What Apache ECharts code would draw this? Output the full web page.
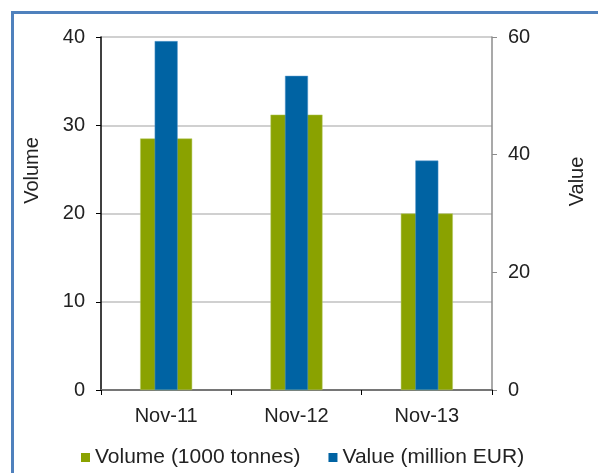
<!DOCTYPE html>
<html><head><meta charset="utf-8">
<script src="https://cdn.jsdelivr.net/npm/echarts@6/dist/echarts.min.js"></script>
<style>html,body{margin:0;padding:0;background:#fff}#c{width:598px;height:473px}</style>
</head><body><div id="c"></div>
<script>
const categories = ['Nov-11', 'Nov-12', 'Nov-13'];
const volume = [28.5, 31.2, 20.0];
const value = [59.3, 53.4, 39.0];
const seriesNames = ['Volume (1000 tonnes)', 'Value (million EUR)'];
const leftTicks = {min: 0, max: 40, interval: 10};
const rightTicks = {min: 0, max: 60, interval: 20};

const font = 'Liberation Sans, Arial, sans-serif';
const chart = echarts.init(document.getElementById('c'), null, {renderer: 'canvas'});
chart.setOption({
  animation: false,
  backgroundColor: '#fff',
  graphic: [{
    type: 'rect', left: 10, top: 10, shape: {x: 0, y: 0, width: 700, height: 600},
    style: {fill: 'none', stroke: '#4f81bd', lineWidth: 3}, silent: true, z: 100
  }],
  grid: {left: 101, right: 106, top: 37, bottom: 83},
  legend: {
    left: 76, top: 442, itemWidth: 9, itemHeight: 9, itemGap: 28,
    icon: 'rect',
    itemStyle: {borderWidth: 0},
    textStyle: {fontFamily: font, fontSize: 21, color: '#222'},
    data: seriesNames
  },
  xAxis: [{
    type: 'category', data: categories, position: 'bottom',
    axisLine: {lineStyle: {color: '#000', width: 1.5}},
    axisTick: {show: true, length: 5, lineStyle: {color: '#000'}},
    axisLabel: {fontFamily: font, fontSize: 20, color: '#222', margin: 16},
    splitLine: {show: false}
  }, {
    type: 'category', data: categories, position: 'top',
    axisLine: {lineStyle: {color: '#8c8c8c', width: 1.5}},
    axisTick: {show: false}, axisLabel: {show: false}, splitLine: {show: false}
  }],
  yAxis: [{
    type: 'value', position: 'left', min: leftTicks.min, max: leftTicks.max, interval: leftTicks.interval,
    name: 'Volume', nameLocation: 'middle', nameGap: 59, nameRotate: 90,
    nameTextStyle: {fontFamily: font, fontSize: 20, color: '#222', padding: [0, 0, 0, 86]},
    axisLine: {show: true, lineStyle: {color: '#000', width: 1.5}},
    axisTick: {show: true, length: 5, lineStyle: {color: '#000'}},
    axisLabel: {fontFamily: font, fontSize: 20, color: '#222', margin: 16},
    splitLine: {show: true, lineStyle: {color: '#c0c0c0', width: 1.5}}
  }, {
    type: 'value', position: 'right', min: rightTicks.min, max: rightTicks.max, interval: rightTicks.interval,
    name: 'Value', nameLocation: 'middle', nameGap: 75, nameRotate: 90,
    nameTextStyle: {fontFamily: font, fontSize: 20, color: '#222', padding: [0, 0, 0, 64]},
    axisLine: {show: true, lineStyle: {color: '#8c8c8c', width: 1.5}},
    axisTick: {show: true, length: 5, lineStyle: {color: '#8c8c8c'}},
    axisLabel: {fontFamily: font, fontSize: 20, color: '#222', margin: 16},
    splitLine: {show: false}
  }],
  series: [{
    name: seriesNames[0], type: 'bar', xAxisIndex: 0, yAxisIndex: 0,
    data: volume, barWidth: 52,
    itemStyle: {color: '#8aa200', borderColor: '#b5c860', borderWidth: 0.5}
  }, {
    name: seriesNames[1], type: 'bar', xAxisIndex: 1, yAxisIndex: 1,
    data: value, barWidth: 23, z: 3,
    itemStyle: {color: '#0063a3', borderColor: '#5a9cd0', borderWidth: 0.5}
  }]
});
</script></body></html>
